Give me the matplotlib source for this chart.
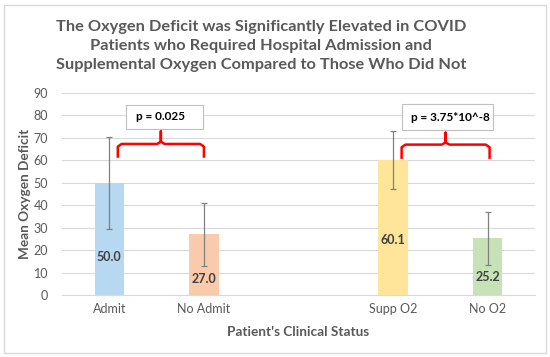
import matplotlib
matplotlib.use('Agg')
import matplotlib.pyplot as plt
from matplotlib.patches import Rectangle

# datos del grafico
categorias = ['Admit', 'No Admit', 'Supp O2', 'No O2']
posiciones = [0, 1, 3, 4]
medias = [50.0, 27.0, 60.1, 25.2]
errores = [20.5, 14.2, 13.0, 11.9]
colores = ['#b7d8f1', '#f9cbac', '#fee59a', '#c6e2b6']
etiqueta_y = [17.0, 7.1, 24.5, 8.2]
p_textos = ['p = 0.025', 'p = 3.75*10^-8']

gris = '#595959'
plt.rcParams['font.family'] = ['Lato', 'DejaVu Sans']

fig = plt.figure(figsize=(5.5, 3.57), dpi=100)
ax = fig.add_axes([62 / 550, 1 - 295 / 357, 473 / 550, 202 / 357])

# borde del area del grafico
fig.patches.append(Rectangle((4 / 550, 4 / 357), 542 / 550, 348 / 357,
                             transform=fig.transFigure, fill=False,
                             edgecolor='#d9d9d9', linewidth=1))

ax.bar(posiciones, medias, width=0.31, color=colores, zorder=2)
ax.errorbar(posiciones, medias, yerr=errores, fmt='none', ecolor='#808080',
            elinewidth=0.9, capsize=2.5, capthick=0.9, zorder=3)

for x, v, yl in zip(posiciones, medias, etiqueta_y):
    ax.text(x, yl, f'{v:.1f}', ha='center', va='center', fontsize=9,
            fontweight='bold', color='#404040', zorder=4)

# llaves rojas
llaves = [(0.09, 1.0, 61.7, 67.3, 72.9), (3.09, 4.02, 61.2, 67.0, 72.3)]
for x0, x1, yb, yh, yt in llaves:
    xm = (x0 + x1) / 2
    r = 0.04
    ax.plot([x0, x0, x0 + r, xm - r, xm, xm, xm, xm + r, x1 - r, x1, x1],
            [yb, yh - 1.2, yh, yh, yh + 1.0, yt, yh + 1.0, yh, yh, yh - 1.2, yb],
            color='#ff0000', linewidth=1.8, zorder=4, solid_joinstyle='round')

# cuadros de texto con el valor p
cajas = [(0.18, 0.99, 74.0, 84.7), (3.09, 4.06, 73.5, 84.9)]
for (x0, x1, y0, y1), txt in zip(cajas, p_textos):
    ax.add_patch(Rectangle((x0, y0), x1 - x0, y1 - y0, facecolor='white',
                           edgecolor='#bfbfbf', linewidth=0.8, zorder=5))
    ax.text(x0 + 0.1, (y0 + y1) / 2, txt, ha='left', va='center', fontsize=8.5,
            fontweight='bold', color='black', zorder=6)

ax.set_xlim(-0.5, 4.5)
ax.set_ylim(0, 90)
ax.set_yticks(range(0, 91, 10))
ax.set_xticks(posiciones)
ax.set_xticklabels(categorias)
ax.grid(axis='y', color='#d9d9d9', linewidth=0.8, zorder=0)
ax.set_axisbelow(True)
for s in ['top', 'right', 'left']:
    ax.spines[s].set_visible(False)
ax.spines['bottom'].set_color('#d9d9d9')
ax.tick_params(length=0, labelsize=9, colors=gris, pad=6)
ax.tick_params(axis='y', pad=10)

ax.set_ylabel('Mean Oxygen Deficit', fontsize=9.8, fontweight='bold', color=gris, labelpad=2)
ax.set_xlabel("Patient's Clinical Status", fontsize=9.8, fontweight='bold', color=gris, labelpad=8)

fig.text(261 / 550, 1 - 46 / 357,
         'The Oxygen Deficit was Significantly Elevated in COVID\n'
         'Patients who Required Hospital Admission and\n'
         'Supplemental Oxygen Compared to Those Who Did Not',
         ha='center', va='center', fontsize=11.8, fontweight='bold', color=gris,
         linespacing=1.5)

fig.savefig('out.png', dpi=100)
